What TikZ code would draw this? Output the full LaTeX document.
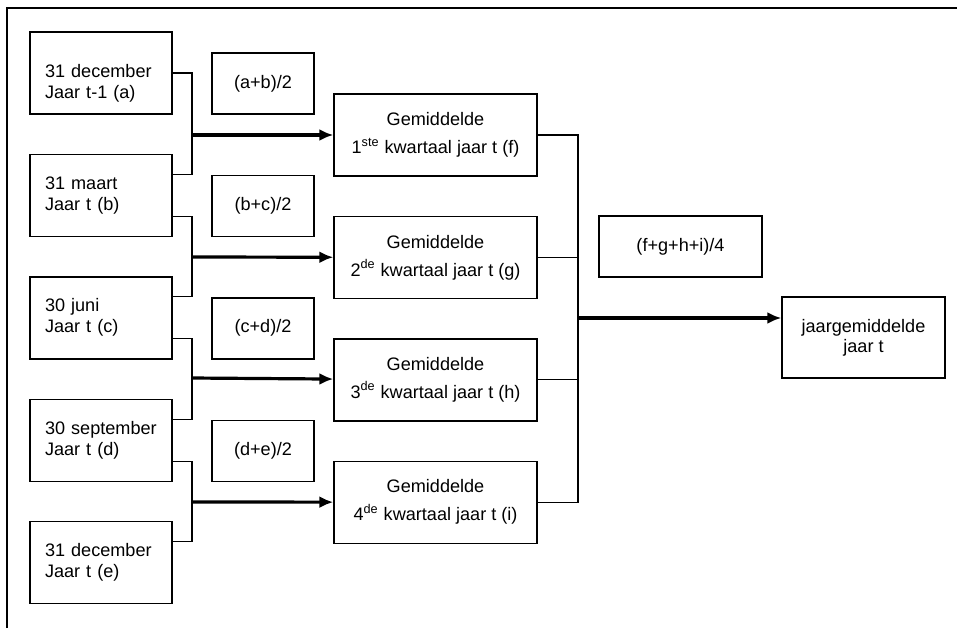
\documentclass[tikz,border=0pt]{standalone}
\usepackage{fontspec}
\setmainfont{Liberation Sans}
\usetikzlibrary{arrows.meta}
\tikzset{%
  >={Latex[width=6pt,length=7pt]},
  % Specifications for style of nodes:
        base/.style = {rectangle, draw=black, line width=0.7pt,
                       font=\fontsize{9.05}{10.5}\selectfont},
       datum/.style = {base, minimum width=71pt, minimum height=41pt,
                       text width=56pt, align=left},
     formule/.style = {base, minimum width=51pt, minimum height=30.5pt},
    kwartaal/.style = {base, minimum width=101.5pt, minimum height=41pt,
                       align=center, font=\fontsize{9.05}{14}\selectfont},
      totaal/.style = {base, minimum width=81.5pt, minimum height=30.5pt},
   jaargemid/.style = {base, minimum width=81.5pt, minimum height=40.5pt,
                       align=center, font=\fontsize{9.05}{10}\selectfont},
  % Specifications for style of lines:
        lijn/.style = {line width=0.6pt},
        pijl/.style = {->, line width=1.6pt},
}

\begin{document}
\begin{tikzpicture}[x=0.5pt, y=-0.5pt, node distance=61.2pt]

    \useasboundingbox (0,0) rectangle (957,628);
    \draw[line width=0.8pt] (7,628) -- (7,8) -- (957,8);

    % peildata
    \node (a) [datum] at (101,73) {\rule{0pt}{17pt}31 december\\Jaar t-1 (a)};
    \node (b) [datum, below of=a] {31 maart\\Jaar t (b)};
    \node (c) [datum, below of=b] {30 juni\\Jaar t (c)};
    \node (d) [datum, below of=c] {30 september\\Jaar t (d)};
    \node (e) [datum, below of=d] {31 december\\Jaar t (e)};

    % formules
    \node (ab) [formule] at (263,83.5) {(a+b)/2};
    \node (bc) [formule, below of=ab] {(b+c)/2};
    \node (cd) [formule, below of=bc] {(c+d)/2};
    \node (de) [formule, below of=cd] {(d+e)/2};

    % kwartalen
    \node (f) [kwartaal] at (435.5,135)
        {Gemiddelde\\1\textsuperscript{ste} kwartaal jaar t (f)};
    \node (g) [kwartaal, below of=f]
        {Gemiddelde\\2\textsuperscript{de} kwartaal jaar t (g)};
    \node (h) [kwartaal, below of=g]
        {Gemiddelde\\3\textsuperscript{de} kwartaal jaar t (h)};
    \node (i) [kwartaal, below of=h]
        {Gemiddelde\\4\textsuperscript{de} kwartaal jaar t (i)};

    \node (fghi) [totaal] at (680.5,246.5) {(f+g+h+i)/4};
    \node (j) [jaargemid] at (863.5,337.5) {jaargemiddelde\\jaar t};

    \coordinate (jf) at (192,135);
    \coordinate (jg) at (192,257);
    \coordinate (jh) at (192,378);
    \coordinate (ji) at (192,502);
    \coordinate (jj) at (578,318);

    \draw[lijn] (a.east) -| (jf) |- ([yshift=10.5pt]b.east);
    \draw[lijn] ([yshift=-10.5pt]b.east) -| (jg) |- ([yshift=10.5pt]c.east);
    \draw[lijn] ([yshift=-10.5pt]c.east) -| (jh) |- ([yshift=10.5pt]d.east);
    \draw[lijn] ([yshift=-10.5pt]d.east) -| (ji) |- ([yshift=10.5pt]e.east);
    \draw[pijl] (jf) -- (f);
    \draw[pijl] (jg) -- (g);
    \draw[pijl] (jh) -- (h);
    \draw[pijl] (ji) -- (i);

    \draw[lijn] (f.east) -| (jj) |- (i.east);
    \draw[lijn] (g.east) -- (g.east -| jj);
    \draw[lijn] (h.east) -- (h.east -| jj);
    \draw[pijl] (jj) -- (jj -| j.west);

\end{tikzpicture}
\end{document}
